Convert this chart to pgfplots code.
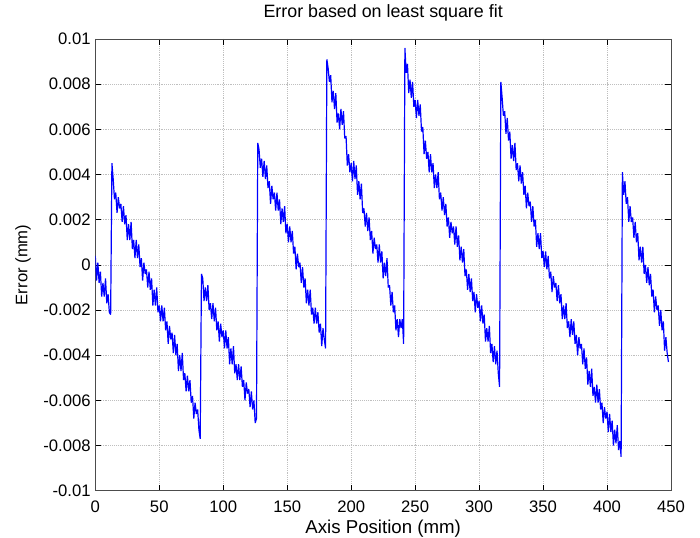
\documentclass[border=0pt]{standalone}
\usepackage{fontspec}
\setmainfont{Liberation Sans}
\usepackage{pgfplots}
\pgfplotsset{compat=1.18}

\begin{document}
\begin{tikzpicture}
  \path[use as bounding box] (-71.5pt,-35.25pt) rectangle (453.75pt,368.25pt);
  \begin{axis}[
      at={(0pt,0pt)}, anchor=south west,
      scale only axis, width=432pt, height=339pt,
      xmin=0, xmax=450, ymin=-0.01, ymax=0.01,
      xtick={0,50,...,450},
      ytick={-0.01,-0.008,-0.006,-0.004,-0.002,0,0.002,0.004,0.006,0.008,0.01},
      yticklabels={-0.01,-0.008,-0.006,-0.004,-0.002,0,0.002,0.004,0.006,0.008,0.01},
      scaled y ticks=false,
      /pgf/number format/assume math mode=true,
      tick align=inside, major tick length=4.5pt,
      tick style={black, line width=0.5pt},
      axis line style={black!70, line width=0.6pt},
      grid=major,
      major grid style={densely dotted, black!25, line width=0.4pt},
      tick label style={font=\fontsize{12.5}{14}\selectfont},
      xticklabel style={anchor=base, yshift=-16pt},
      title={Error based on least square fit},
      title style={font=\fontsize{13.4}{15}\selectfont, anchor=base, at={(axis description cs:0.5,1.0304)}},
      xlabel={Axis Position (mm)},
      xlabel style={font=\fontsize{14}{16}\selectfont, anchor=base, at={(axis description cs:0.5,-0.0935)}},
      ylabel={Error (mm)},
      ylabel style={font=\fontsize{12.5}{14}\selectfont, anchor=center, at={(axis description cs:-0.1255,0.5)}},
    ]
    % measured error, one point per mm of travel
    \addplot[blue, line width=0.9pt, line join=bevel] coordinates {
      (0,4e-4) (1,-7e-4) (2,1e-4) (3,-8e-4) (4,-3e-4) (5,-14e-4) (6,-8e-4) (7,-14e-4) (8,-6e-4) (9,-17e-4)
      (10,-13e-4) (11,-21e-4) (12,-22e-4)
      (13,45e-4) (14,38e-4) (15,29e-4) (16,32e-4) (17,23e-4) (18,30e-4) (19,25e-4) (20,27e-4) (21,19e-4)
      (22,26e-4) (23,18e-4) (24,22e-4) (25,11e-4) (26,18e-4) (27,11e-4) (28,19e-4) (29,7e-4) (30,11e-4)
      (31,3e-4) (32,11e-4) (33,3e-4) (34,9e-4) (35,-1e-4) (36,3e-4) (37,-7e-4) (38,1e-4) (39,-4e-4)
      (40,-2e-4) (41,-10e-4) (42,-3e-4) (43,-11e-4) (44,-6e-4) (45,-18e-4) (46,-11e-4) (47,-18e-4)
      (48,-10e-4) (49,-21e-4) (50,-18e-4) (51,-25e-4) (52,-18e-4) (53,-25e-4) (54,-19e-4) (55,-29e-4)
      (56,-25e-4) (57,-35e-4) (58,-27e-4) (59,-33e-4) (60,-30e-4) (61,-39e-4) (62,-31e-4) (63,-40e-4)
      (64,-35e-4) (65,-47e-4) (66,-40e-4) (67,-47e-4) (68,-39e-4) (69,-51e-4) (70,-48e-4) (71,-56e-4)
      (72,-49e-4) (73,-56e-4) (74,-51e-4) (75,-61e-4) (76,-58e-4) (77,-68e-4) (78,-61e-4) (79,-66e-4)
      (80,-64e-4) (81,-73e-4) (82,-77e-4)
      (83,-4e-4) (84,-6e-4) (85,-16e-4) (86,-10e-4) (87,-16e-4) (88,-9e-4) (89,-20e-4) (90,-17e-4)
      (91,-24e-4) (92,-17e-4) (93,-25e-4) (94,-19e-4) (95,-29e-4) (96,-25e-4) (97,-34e-4) (98,-26e-4)
      (99,-32e-4) (100,-29e-4) (101,-37e-4) (102,-29e-4) (103,-37e-4) (104,-32e-4) (105,-44e-4)
      (106,-37e-4) (107,-44e-4) (108,-36e-4) (109,-48e-4) (110,-44e-4) (111,-51e-4) (112,-44e-4)
      (113,-51e-4) (114,-45e-4) (115,-54e-4) (116,-51e-4) (117,-60e-4) (118,-52e-4) (119,-57e-4)
      (120,-55e-4) (121,-63e-4) (122,-56e-4) (123,-64e-4) (124,-60e-4) (125,-70e-4) (126,-68e-4)
      (127,54e-4) (128,51e-4) (129,43e-4) (130,47e-4) (131,39e-4) (132,46e-4) (133,38e-4) (134,44e-4)
      (135,34e-4) (136,37e-4) (137,27e-4) (138,35e-4) (139,29e-4) (140,32e-4) (141,24e-4) (142,32e-4)
      (143,24e-4) (144,29e-4) (145,18e-4) (146,25e-4) (147,19e-4) (148,26e-4) (149,14e-4) (150,18e-4)
      (151,10e-4) (152,17e-4) (153,10e-4) (154,15e-4) (155,5e-4) (156,8e-4) (157,-2e-4) (158,5e-4)
      (159,-1e-4) (160,1e-4) (161,-8e-4) (162,-1e-4) (163,-10e-4) (164,-6e-4) (165,-17e-4) (166,-11e-4)
      (167,-18e-4) (168,-11e-4) (169,-22e-4) (170,-19e-4) (171,-26e-4) (172,-19e-4) (173,-26e-4)
      (174,-21e-4) (175,-30e-4) (176,-26e-4) (177,-36e-4) (178,-28e-4) (179,-33e-4) (180,-37e-4)
      (181,91e-4) (182,87e-4) (183,81e-4) (184,84e-4) (185,72e-4) (186,77e-4) (187,69e-4) (188,76e-4)
      (189,63e-4) (190,67e-4) (191,60e-4) (192,69e-4) (193,62e-4) (194,68e-4) (195,56e-4) (196,57e-4)
      (197,44e-4) (198,49e-4) (199,41e-4) (200,45e-4) (201,37e-4) (202,46e-4) (203,38e-4) (204,44e-4)
      (205,31e-4) (206,37e-4) (207,29e-4) (208,36e-4) (209,23e-4) (210,25e-4) (211,17e-4) (212,23e-4)
      (213,15e-4) (214,21e-4) (215,11e-4) (216,15e-4) (217,5e-4) (218,12e-4) (219,7e-4) (220,9e-4)
      (221,1e-4) (222,9e-4) (223,1e-4) (224,6e-4) (225,-6e-4) (226,1e-4) (227,-5e-4) (228,3e-4)
      (229,-10e-4) (230,-9e-4) (231,-18e-4) (232,-12e-4) (233,-21e-4) (234,-18e-4) (235,-29e-4)
      (236,-24e-4) (237,-32e-4) (238,-24e-4) (239,-28e-4) (240,-24e-4) (241,-35e-4)
      (242,96e-4) (243,85e-4) (244,89e-4) (245,76e-4) (246,82e-4) (247,74e-4) (248,81e-4) (249,70e-4)
      (250,73e-4) (251,65e-4) (252,73e-4) (253,66e-4) (254,71e-4) (255,59e-4) (256,61e-4) (257,49e-4)
      (258,55e-4) (259,47e-4) (260,50e-4) (261,41e-4) (262,49e-4) (263,41e-4) (264,45e-4) (265,34e-4)
      (266,40e-4) (267,34e-4) (268,41e-4) (269,29e-4) (270,32e-4) (271,24e-4) (272,30e-4) (273,22e-4)
      (274,27e-4) (275,17e-4) (276,21e-4) (277,12e-4) (278,19e-4) (279,14e-4) (280,17e-4) (281,9e-4)
      (282,17e-4) (283,8e-4) (284,13e-4) (285,2e-4) (286,8e-4) (287,1e-4) (288,7e-4) (289,-5e-4)
      (290,-2e-4) (291,-11e-4) (292,-4e-4) (293,-12e-4) (294,-6e-4) (295,-16e-4) (296,-12e-4)
      (297,-21e-4) (298,-13e-4) (299,-19e-4) (300,-16e-4) (301,-25e-4) (302,-18e-4) (303,-26e-4)
      (304,-22e-4) (305,-34e-4) (306,-28e-4) (307,-34e-4) (308,-27e-4) (309,-39e-4) (310,-35e-4)
      (311,-43e-4) (312,-36e-4) (313,-44e-4) (314,-38e-4) (315,-48e-4) (316,-54e-4)
      (317,81e-4) (318,74e-4) (319,66e-4) (320,68e-4) (321,58e-4) (322,65e-4) (323,55e-4) (324,59e-4)
      (325,47e-4) (326,53e-4) (327,46e-4) (328,54e-4) (329,42e-4) (330,45e-4) (331,37e-4) (332,44e-4)
      (333,36e-4) (334,41e-4) (335,31e-4) (336,35e-4) (337,25e-4) (338,32e-4) (339,26e-4) (340,28e-4)
      (341,19e-4) (342,26e-4) (343,17e-4) (344,20e-4) (345,8e-4) (346,14e-4) (347,7e-4) (348,14e-4)
      (349,3e-4) (350,6e-4) (351,-1e-4) (352,6e-4) (353,-2e-4) (354,4e-4) (355,-6e-4) (356,-3e-4)
      (357,-12e-4) (358,-5e-4) (359,-10e-4) (360,-8e-4) (361,-16e-4) (362,-9e-4) (363,-17e-4)
      (364,-13e-4) (365,-24e-4) (366,-18e-4) (367,-24e-4) (368,-17e-4) (369,-28e-4) (370,-25e-4)
      (371,-32e-4) (372,-24e-4) (373,-31e-4) (374,-25e-4) (375,-35e-4) (376,-31e-4) (377,-40e-4)
      (378,-32e-4) (379,-37e-4) (380,-35e-4) (381,-44e-4) (382,-37e-4) (383,-46e-4) (384,-41e-4)
      (385,-53e-4) (386,-47e-4) (387,-54e-4) (388,-46e-4) (389,-58e-4) (390,-54e-4) (391,-61e-4)
      (392,-53e-4) (393,-61e-4) (394,-55e-4) (395,-64e-4) (396,-61e-4) (397,-70e-4) (398,-63e-4)
      (399,-68e-4) (400,-65e-4) (401,-74e-4) (402,-66e-4) (403,-74e-4) (404,-69e-4) (405,-80e-4)
      (406,-73e-4) (407,-79e-4) (408,-71e-4) (409,-82e-4) (410,-78e-4) (411,-85e-4)
      (412,41e-4) (413,31e-4) (414,37e-4) (415,27e-4) (416,30e-4) (417,19e-4) (418,26e-4) (419,19e-4)
      (420,21e-4) (421,12e-4) (422,19e-4) (423,10e-4) (424,14e-4) (425,2e-4) (426,8e-4) (427,1e-4)
      (428,8e-4) (429,-4e-4) (430,0) (431,-8e-4) (432,-1e-4) (433,-9e-4) (434,-4e-4) (435,-14e-4)
      (436,-11e-4) (437,-21e-4) (438,-14e-4) (439,-20e-4) (440,-18e-4) (441,-27e-4) (442,-20e-4)
      (443,-29e-4) (444,-25e-4) (445,-38e-4) (446,-32e-4) (447,-39e-4) (448,-43e-4)
    };
  \end{axis}
\end{tikzpicture}
\end{document}
